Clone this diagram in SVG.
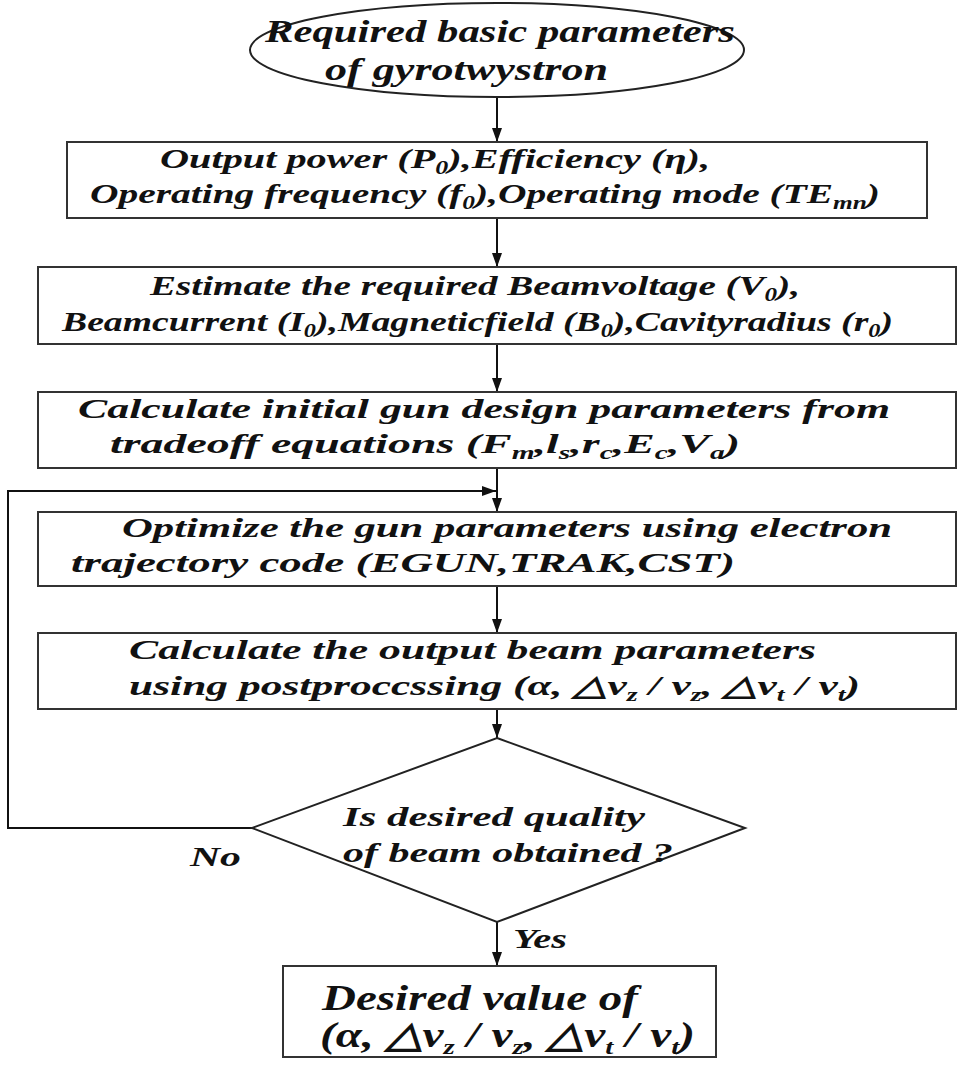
<svg xmlns="http://www.w3.org/2000/svg" width="964" height="1068" viewBox="0 0 964 1068">
<style>
.t{font-family:"Liberation Serif","Times New Roman",serif;font-weight:bold;font-style:italic;font-size:28px;fill:#111;}
.big{font-size:31px;}
.fin{font-size:36px;}
.box{fill:#fff;stroke:#333;stroke-width:2;}
.ln{fill:none;stroke:#111;stroke-width:2;}
.s{font-size:18px;}
</style>
<defs>
<marker id="ahl" viewBox="0 0 14 10" refX="14" refY="5" markerWidth="14" markerHeight="10" markerUnits="userSpaceOnUse" orient="auto">
<path d="M0,0 L14,5 L0,10 Z" fill="#111"/>
</marker>
</defs>
<rect width="964" height="1068" fill="#fff"/>
<g id="connectors">
<line class="ln" x1="497" y1="97" x2="497" y2="142" marker-end="url(#ahl)"/>
<line class="ln" x1="497" y1="218" x2="497" y2="267" marker-end="url(#ahl)"/>
<line class="ln" x1="497" y1="344" x2="497" y2="392" marker-end="url(#ahl)"/>
<line class="ln" x1="497" y1="468" x2="497" y2="512" marker-end="url(#ahl)"/>
<line class="ln" x1="497" y1="586" x2="497" y2="633" marker-end="url(#ahl)"/>
<line class="ln" x1="497" y1="709" x2="497" y2="738" marker-end="url(#ahl)"/>
<line class="ln" x1="497" y1="922" x2="497" y2="966" marker-end="url(#ahl)"/>
<path class="ln" d="M252,828 H8 V491 H496" marker-end="url(#ahl)"/>
<text class="t" x="513" y="948" textLength="54" lengthAdjust="spacingAndGlyphs">Yes</text>
<text class="t" x="190" y="866" textLength="51" lengthAdjust="spacingAndGlyphs">No</text>
</g>
<g id="start">
<ellipse cx="497" cy="50" rx="247" ry="47" fill="#fff" stroke="#222" stroke-width="2"/>
<text class="t big" x="265" y="42" textLength="470" lengthAdjust="spacingAndGlyphs">Required basic parameters</text>
<text class="t big" x="325" y="80" textLength="283" lengthAdjust="spacingAndGlyphs">of gyrotwystron</text>
</g>
<g id="box1">
<rect class="box" x="67" y="142" width="860" height="76"/>
<text class="t" x="160" y="168" textLength="550" lengthAdjust="spacingAndGlyphs">Output  power (P<tspan class="s" dy="6">0</tspan><tspan dy="-6">),Efficiency (η),</tspan></text>
<text class="t" x="90" y="203" textLength="790" lengthAdjust="spacingAndGlyphs">Operating  frequency (f<tspan class="s" dy="6">0</tspan><tspan dy="-6">),Operating mode (TE</tspan><tspan class="s" dy="6">mn</tspan><tspan dy="-6">)</tspan></text>
</g>
<g id="box2">
<rect class="box" x="38" y="267" width="918" height="77"/>
<text class="t" x="150" y="295" textLength="650" lengthAdjust="spacingAndGlyphs">Estimate the required Beamvoltage (V<tspan class="s" dy="6">0</tspan><tspan dy="-6">),</tspan></text>
<text class="t" x="62" y="331" textLength="831" lengthAdjust="spacingAndGlyphs">Beamcurrent (I<tspan class="s" dy="6">0</tspan><tspan dy="-6">),Magneticfield (B</tspan><tspan class="s" dy="6">0</tspan><tspan dy="-6">),Cavityradius (r</tspan><tspan class="s" dy="6">0</tspan><tspan dy="-6">)</tspan></text>
</g>
<g id="box3">
<rect class="box" x="38" y="392" width="918" height="76"/>
<text class="t" x="78" y="418" textLength="812" lengthAdjust="spacingAndGlyphs">Calculate initial gun design parameters from</text>
<text class="t" x="110" y="453" textLength="630" lengthAdjust="spacingAndGlyphs">tradeoff  equations  (F<tspan class="s" dy="6">m</tspan><tspan dy="-6">,l</tspan><tspan class="s" dy="6">s</tspan><tspan dy="-6">,r</tspan><tspan class="s" dy="6">c</tspan><tspan dy="-6">,E</tspan><tspan class="s" dy="6">c</tspan><tspan dy="-6">,V</tspan><tspan class="s" dy="6">a</tspan><tspan dy="-6">)</tspan></text>
</g>
<g id="box4">
<rect class="box" x="38" y="512" width="918" height="74"/>
<text class="t" x="122" y="537" textLength="770" lengthAdjust="spacingAndGlyphs">Optimize the gun parameters using electron</text>
<text class="t" x="71" y="572" textLength="664" lengthAdjust="spacingAndGlyphs">trajectory code (EGUN,TRAK,CST)</text>
</g>
<g id="box5">
<rect class="box" x="38" y="633" width="918" height="76"/>
<text class="t" x="129" y="659" textLength="687" lengthAdjust="spacingAndGlyphs">Calculate the output beam parameters</text>
<text class="t" x="129" y="695" textLength="731" lengthAdjust="spacingAndGlyphs">using postproccssing (α, △v<tspan class="s" dy="6">z</tspan><tspan dy="-6"> / v</tspan><tspan class="s" dy="6">z</tspan><tspan dy="-6">, △v</tspan><tspan class="s" dy="6">t</tspan><tspan dy="-6"> / v</tspan><tspan class="s" dy="6">t</tspan><tspan dy="-6">)</tspan></text>
</g>
<g id="decision">
<polygon points="497,738 745,828 497,922 252,828" fill="#fff" stroke="#222" stroke-width="2"/>
<text class="t" x="343" y="826" textLength="302" lengthAdjust="spacingAndGlyphs">Is desired quality</text>
<text class="t" x="343" y="862" textLength="330" lengthAdjust="spacingAndGlyphs">of  beam obtained ?</text>
</g>
<g id="result">
<rect class="box" x="283" y="966" width="433" height="91"/>
<text class="t fin" x="322" y="1010" textLength="316" lengthAdjust="spacingAndGlyphs">Desired value of</text>
<text class="t fin" x="320" y="1047" textLength="375" lengthAdjust="spacingAndGlyphs">(α, △v<tspan class="s" style="font-size:22px" dy="7">z</tspan><tspan dy="-7"> / v</tspan><tspan class="s" style="font-size:22px" dy="7">z</tspan><tspan dy="-7">, △v</tspan><tspan class="s" style="font-size:22px" dy="7">t</tspan><tspan dy="-7"> / v</tspan><tspan class="s" style="font-size:22px" dy="7">t</tspan><tspan dy="-7">)</tspan></text>
</g>
</svg>
